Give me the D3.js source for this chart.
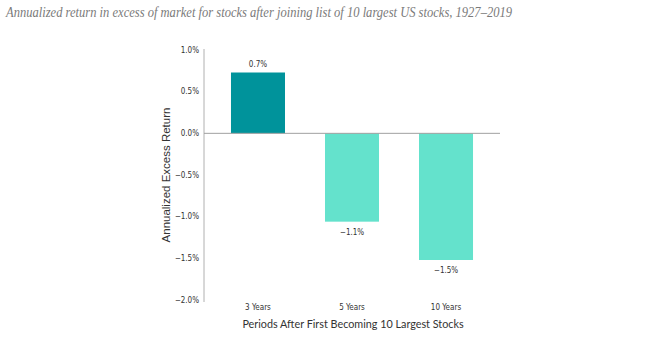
<!DOCTYPE html>
<html>
<head>
<meta charset="utf-8">
<script src="https://cdn.jsdelivr.net/npm/d3@7"></script>
<style>
  body { margin: 0; background: #fff; }
  .tick-lbl { font-family: "Liberation Sans Narrow", "DejaVu Sans Condensed", sans-serif; font-size: 8px; fill: #333; }
</style>
</head>
<body>
<div id="chart"></div>
<script>
// data
const categories = ["3 Years", "5 Years", "10 Years"];
const values = [0.73, -1.06, -1.52];
const yTicks = [1.0, 0.5, 0.0, -0.5, -1.0, -1.5, -2.0];

const W = 656, H = 339;
const svg = d3.select("#chart").append("svg")
    .attr("width", W)
    .attr("height", H);

// plot area
const plotLeft = 204, plotRight = 500, plotTop = 50, plotBottom = 300;

const x = d3.scaleBand()
    .domain(categories)
    .range([plotLeft, plotRight])
    .paddingInner(0.4255)
    .paddingOuter(0.287);

const y = d3.scaleLinear()
    .domain([-2, 1])
    .range([plotBottom, plotTop]);

const fmt = v => (v < 0 ? "\u2212" : "") + Math.abs(v).toFixed(1) + "%";

// title
svg.append("text")
    .attr("x", 6)
    .attr("y", 17)
    .attr("font-family", "Liberation Serif, serif")
    .attr("font-style", "italic")
    .attr("font-size", "15px")
    .attr("fill", "#7a7a7a")
    .attr("textLength", 506)
    .attr("lengthAdjust", "spacingAndGlyphs")
    .text("Annualized return in excess of market for stocks after joining list of 10 largest US stocks, 1927\u20132019");

// y axis line
svg.append("line")
    .attr("x1", plotLeft).attr("x2", plotLeft)
    .attr("y1", plotTop - 1).attr("y2", plotBottom + 2)
    .attr("stroke", "#b0b0b0")
    .attr("stroke-width", 1);

// y tick labels
svg.selectAll("text.ytick")
    .data(yTicks)
    .enter()
    .append("text")
    .attr("class", "tick-lbl ytick")
    .attr("x", plotLeft - 5)
    .attr("y", d => y(d))
    .attr("dy", "0.35em")
    .attr("text-anchor", "end")
    .text(d => fmt(d));

// bars
svg.selectAll("rect.bar")
    .data(values)
    .enter()
    .append("rect")
    .attr("class", "bar")
    .attr("x", (d, i) => x(categories[i]))
    .attr("width", x.bandwidth())
    .attr("y", d => y(Math.max(0, d)))
    .attr("height", d => Math.abs(y(d) - y(0)))
    .attr("fill", (d, i) => i === 0 ? "#00939b" : "#64e2cc");

// zero line
svg.append("line")
    .attr("x1", plotLeft).attr("x2", plotRight)
    .attr("y1", y(0)).attr("y2", y(0))
    .attr("stroke", "#a0a0a0")
    .attr("stroke-width", 1);

// value labels
svg.selectAll("text.val")
    .data(values)
    .enter()
    .append("text")
    .attr("class", "tick-lbl val")
    .attr("x", (d, i) => x(categories[i]) + x.bandwidth() / 2)
    .attr("y", d => d >= 0 ? y(d) - 6 : y(d) + 13)
    .attr("text-anchor", "middle")
    .text(d => fmt(d));

// category labels
svg.selectAll("text.cat")
    .data(categories)
    .enter()
    .append("text")
    .attr("class", "tick-lbl cat")
    .attr("x", d => x(d) + x.bandwidth() / 2)
    .attr("y", 310)
    .attr("text-anchor", "middle")
    .text(d => d);

// axis titles
svg.append("text")
    .attr("x", (plotLeft + plotRight) / 2 + 1)
    .attr("y", 328)
    .attr("text-anchor", "middle")
    .attr("font-family", "Lato, sans-serif")
    .attr("font-size", "10.8px")
    .attr("fill", "#333")
    .text("Periods After First Becoming 10 Largest Stocks");

svg.append("text")
    .attr("transform", `translate(170,${(plotTop + plotBottom) / 2}) rotate(-90)`)
    .attr("text-anchor", "middle")
    .attr("font-family", "Liberation Sans, Arial, sans-serif")
    .attr("font-size", "11.5px")
    .attr("fill", "#333")
    .text("Annualized Excess Return");
</script>
</body>
</html>
